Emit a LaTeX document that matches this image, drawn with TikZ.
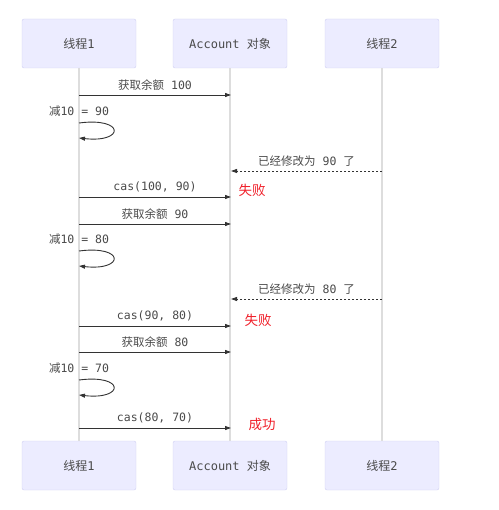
\documentclass[tikz,border=0pt]{standalone}
\usepackage{fontspec}
\setmonofont{DejaVu Sans Mono}
\newfontfamily\cjk{Noto Sans CJK SC}
\usetikzlibrary{positioning,arrows.meta}
\definecolor{actfill}{HTML}{ECECFF}
\definecolor{actline}{HTML}{CFCFF2}
\definecolor{lifeline}{HTML}{DDDDDD}
\definecolor{txt}{HTML}{4A4A4A}
\definecolor{arrcol}{HTML}{333333}
\definecolor{failred}{HTML}{F0202A}

\begin{document}
\begin{tikzpicture}[
  x=1pt, y=-1pt,
  actor/.style={draw=actline, fill=actfill, rounded corners=2pt, minimum width=114pt, minimum height=49pt, font=\ttfamily\fontsize{12}{14}\selectfont, text=txt},
  life/.style={draw=lifeline, line width=1.2pt},
  msg/.style={-{Triangle[length=6pt,width=4pt]}, draw=arrcol, line width=0.9pt},
  reply/.style={msg, dash pattern=on 2pt off 2pt},
  lab/.style={font=\ttfamily\fontsize{11.5}{13}\selectfont, text=txt, above=1pt, midway},
  selflab/.style={font=\ttfamily\fontsize{11.5}{13}\selectfont, text=txt, above=3pt},
  res/.style={font=\cjk\fontsize{13.5}{15}\selectfont, text=failred}
]
  \useasboundingbox (0,0) rectangle (498,510);

  % participants
  \node[actor] (t1) at (79,43.5) {{\cjk 线程}1};
  \node[actor] (acc) at (230,43.5) {Account {\cjk 对象}};
  \node[actor] (t2) at (382,43.5) {{\cjk 线程}2};
  \node[actor] (t1b) at (79,465.5) {{\cjk 线程}1};
  \node[actor] (accb) at (230,465.5) {Account {\cjk 对象}};
  \node[actor] (t2b) at (382,465.5) {{\cjk 线程}2};

  % lifelines
  \draw[life] (t1) -- (t1b);
  \draw[life] (acc) -- (accb);
  \draw[life] (t2) -- (t2b);

  % message points
  \coordinate (a1) at (79,95);   \coordinate (b1) at (231,95);
  \coordinate (s1) at (79,123);  \coordinate (e1) at (79,138);
  \coordinate (c1) at (382,171); \coordinate (d1) at (231,171);
  \coordinate (a2) at (79,197);  \coordinate (b2) at (231,197);
  \coordinate (a3) at (79,224);  \coordinate (b3) at (231,224);
  \coordinate (s2) at (79,251);  \coordinate (e2) at (79,266);
  \coordinate (c2) at (382,299); \coordinate (d2) at (231,299);
  \coordinate (a4) at (79,326);  \coordinate (b4) at (231,326);
  \coordinate (a5) at (79,352);  \coordinate (b5) at (231,352);
  \coordinate (s3) at (79,380);  \coordinate (e3) at (79,395);
  \coordinate (a6) at (79,428);  \coordinate (b6) at (231,428);

  % first round
  \draw[msg] (a1) -- node[lab] {{\cjk 获取余额} 100} (b1);
  \draw[msg] (s1) node[selflab] {{\cjk 减}10 = 90} .. controls (125,117) and (125,143) .. (e1);
  \draw[reply] (c1) -- node[lab] {{\cjk 已经修改为} 90 {\cjk 了}} (d1);
  \draw[msg] (a2) -- node[lab] {cas(100, 90)} (b2);
  \node[res] (f1) at (252,190) {失败};

  % second round
  \draw[msg] (a3) -- node[lab] {{\cjk 获取余额} 90} (b3);
  \draw[msg] (s2) node[selflab] {{\cjk 减}10 = 80} .. controls (125,245) and (125,271) .. (e2);
  \draw[reply] (c2) -- node[lab] {{\cjk 已经修改为} 80 {\cjk 了}} (d2);
  \draw[msg] (a4) -- node[lab] {cas(90, 80)} (b4);
  \node[res] (f2) at (258,320) {失败};

  % third round
  \draw[msg] (a5) -- node[lab] {{\cjk 获取余额} 80} (b5);
  \draw[msg] (s3) node[selflab] {{\cjk 减}10 = 70} .. controls (125,374) and (125,400) .. (e3);
  \draw[msg] (a6) -- node[lab] {cas(80, 70)} (b6);
  \node[res] (ok) at (262,424) {成功};
\end{tikzpicture}
\end{document}
